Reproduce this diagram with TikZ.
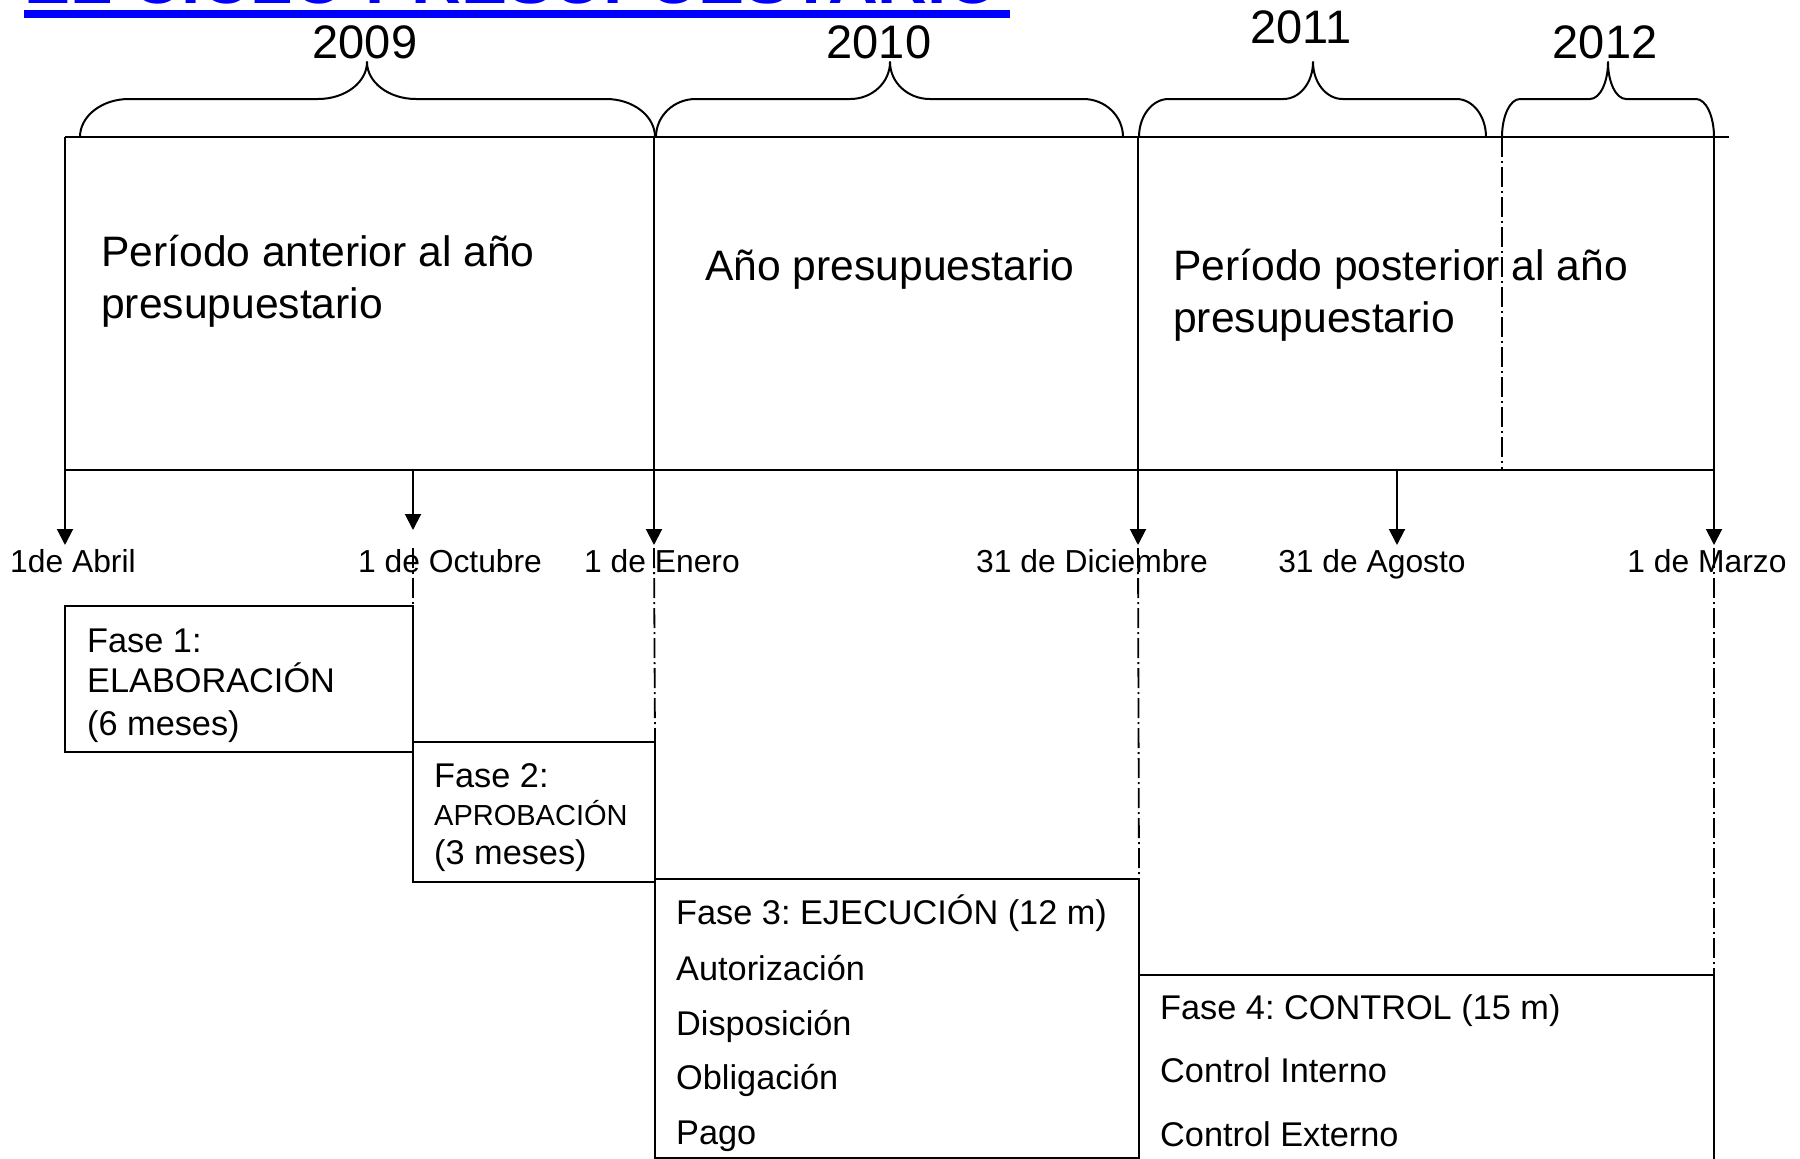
\documentclass[tikz,border=0pt]{standalone}
\usepackage{fontspec}
\setmainfont{Liberation Sans}
\usetikzlibrary{arrows.meta}
\frenchspacing
\definecolor{titleblue}{RGB}{0,0,255}
\newcommand\ybrace[3]{%
  \pgfmathsetmacro\bw{0.085*(#3-#1)}%
  \draw[bracepath] (#1,137) .. controls (#1,116) and ({#1+0.448*\bw},99) .. ({#1+\bw},99)
    -- ({#2-\bw},99) .. controls ({#2-0.448*\bw},99) and (#2,82.4) .. (#2,62)
    .. controls (#2,82.4) and ({#2+0.448*\bw},99) .. ({#2+\bw},99)
    -- ({#3-\bw},99) .. controls ({#3-0.448*\bw},99) and (#3,116) .. (#3,137);%
}
\begin{document}
\begin{tikzpicture}[x=1pt,y=-1pt,
  ln/.style={line width=2pt},
  arr/.style={ln,-{Triangle[length=16pt,width=16pt]}},
  dd/.style={line width=1.8pt,dash pattern=on 20pt off 4pt on 2pt off 4pt},
  box/.style={ln,draw,anchor=north west,inner sep=0pt,outer sep=0pt},
  txt/.style={anchor=base west,inner sep=0pt,font=\fontsize{34.3}{40}\selectfont},
  smalltxt/.style={anchor=base west,inner sep=0pt,font=\fontsize{29}{34}\selectfont},
  big/.style={anchor=base west,inner sep=0pt,font=\fontsize{42.6}{50}\selectfont},
  yr/.style={anchor=base,inner sep=0pt,font=\fontsize{47}{55}\selectfont},
  lbl/.style={anchor=base,inner sep=0pt,font=\fontsize{31.8}{36}\selectfont},
  bracepath/.style={ln,line join=round}
]
\useasboundingbox (0,0) rectangle (1800,1159);
\begin{scope}
\clip (0,0) rectangle (1800,1159);

% title (cut off at top)
\node[anchor=base west,inner sep=0pt,text=titleblue,font=\bfseries\fontsize{69}{80}\selectfont] (title) at (24,3) {EL CICLO PRESUPUESTARIO};
\fill[titleblue] (24,10) rectangle (1010,17.5);

% years
\node[yr] (y2009) at (365,58.5) {2009};
\node[yr] (y2010) at (879,58.5) {2010};
\node[yr] (y2011) at (1301,43.5) {2011};
\node[yr] (y2012) at (1605,58.5) {2012};

% braces
\ybrace{80}{367}{655}
\ybrace{656}{890}{1123}
\ybrace{1139}{1313}{1486}
\ybrace{1502}{1608}{1714}

% coordinates
\coordinate (tA) at (65,137);   \coordinate (eA) at (65,545);
\coordinate (tE) at (654,137);  \coordinate (eE) at (654,545);
\coordinate (tD) at (1138,137); \coordinate (eD) at (1138,545);
\coordinate (tM) at (1714,137); \coordinate (eM) at (1714,545);
\coordinate (tR) at (1729,137);
\coordinate (bL) at (65,470);   \coordinate (bR) at (1714,470);
\coordinate (bO) at (413,470);  \coordinate (eO) at (413,530);
\coordinate (bG) at (1397,470); \coordinate (eG) at (1397,545);
\coordinate (tP) at (1502,137); \coordinate (bP) at (1502,470);

% main frame
\draw[ln] (tA) -- (tR);
\draw[ln] (bL) -- (bR);
\draw[dd] (tP) -- (bP);

% main texts
\node[big] (pa1) at (101,266) {Período anterior al año};
\node[big] (pa2) at (101,318) {presupuestario};
\node[big] (ap) at (705,280) {Año presupuestario};
\node[big] (pp1) at (1173,280) {Período posterior al año};
\node[big] (pp2) at (1173,332) {presupuestario};

% arrows
\draw[arr] (tA) -- (eA);
\draw[arr] (tE) -- (eE);
\draw[arr] (tD) -- (eD);
\draw[arr] (tM) -- (eM);
\draw[arr] (bO) -- (eO);
\draw[arr] (bG) -- (eG);

% date labels
\node[lbl] (lAbr) at (73,572) {1de Abril};
\node[lbl] (lOct) at (450,572) {1 de Octubre};
\node[lbl] (lEne) at (662,572) {1 de Enero};
\node[lbl] (lDic) at (1092,572) {31 de Diciembre};
\node[lbl] (lAgo) at (1372,572) {31 de Agosto};
\node[lbl] (lMar) at (1707,572) {1 de Marzo};

% phase boxes
\node[box,minimum width=348pt,minimum height=146pt] (f1) at (65,606) {};
\node[box,minimum width=242pt,minimum height=140pt] (f2) at (413,742) {};
\node[box,minimum width=484pt,minimum height=279pt] (f3) at (655,879) {};
\node[box,minimum width=575pt,minimum height=240pt] (f4) at (1139,975) {};

% dash-dot guide lines
\coordinate (dO) at (413,548);
\coordinate (dE) at (654,548);
\coordinate (dD) at (1138,548);
\coordinate (dM) at (1714,548);
\draw[dd] (dO) -- (f1.north east);
\draw[dd] (dE) -- (f2.north east);
\draw[dd] (dD) -- (f3.north east);
\draw[dd] (dM) -- (f4.north east);

% phase texts
\node[txt] (f1a) at (87,652) {Fase 1:};
\node[txt] (f1b) at (87,692) {ELABORACIÓN};
\node[txt] (f1c) at (87,735) {(6 meses)};

\node[txt] (f2a) at (434,787) {Fase 2:};
\node[smalltxt] (f2b) at (434,825) {APROBACIÓN};
\node[txt] (f2c) at (434,864) {(3 meses)};

\node[txt] (f3a) at (676,924) {Fase 3: EJECUCIÓN (12 m)};
\node[txt] (f3b) at (676,980) {Autorización};
\node[txt] (f3c) at (676,1035) {Disposición};
\node[txt] (f3d) at (676,1089) {Obligación};
\node[txt] (f3e) at (676,1144) {Pago};

\node[txt] (f4a) at (1160,1019) {Fase 4: CONTROL (15 m)};
\node[txt] (f4b) at (1160,1082) {Control Interno};
\node[txt] (f4c) at (1160,1146) {Control Externo};
\end{scope}
\end{tikzpicture}
\end{document}
